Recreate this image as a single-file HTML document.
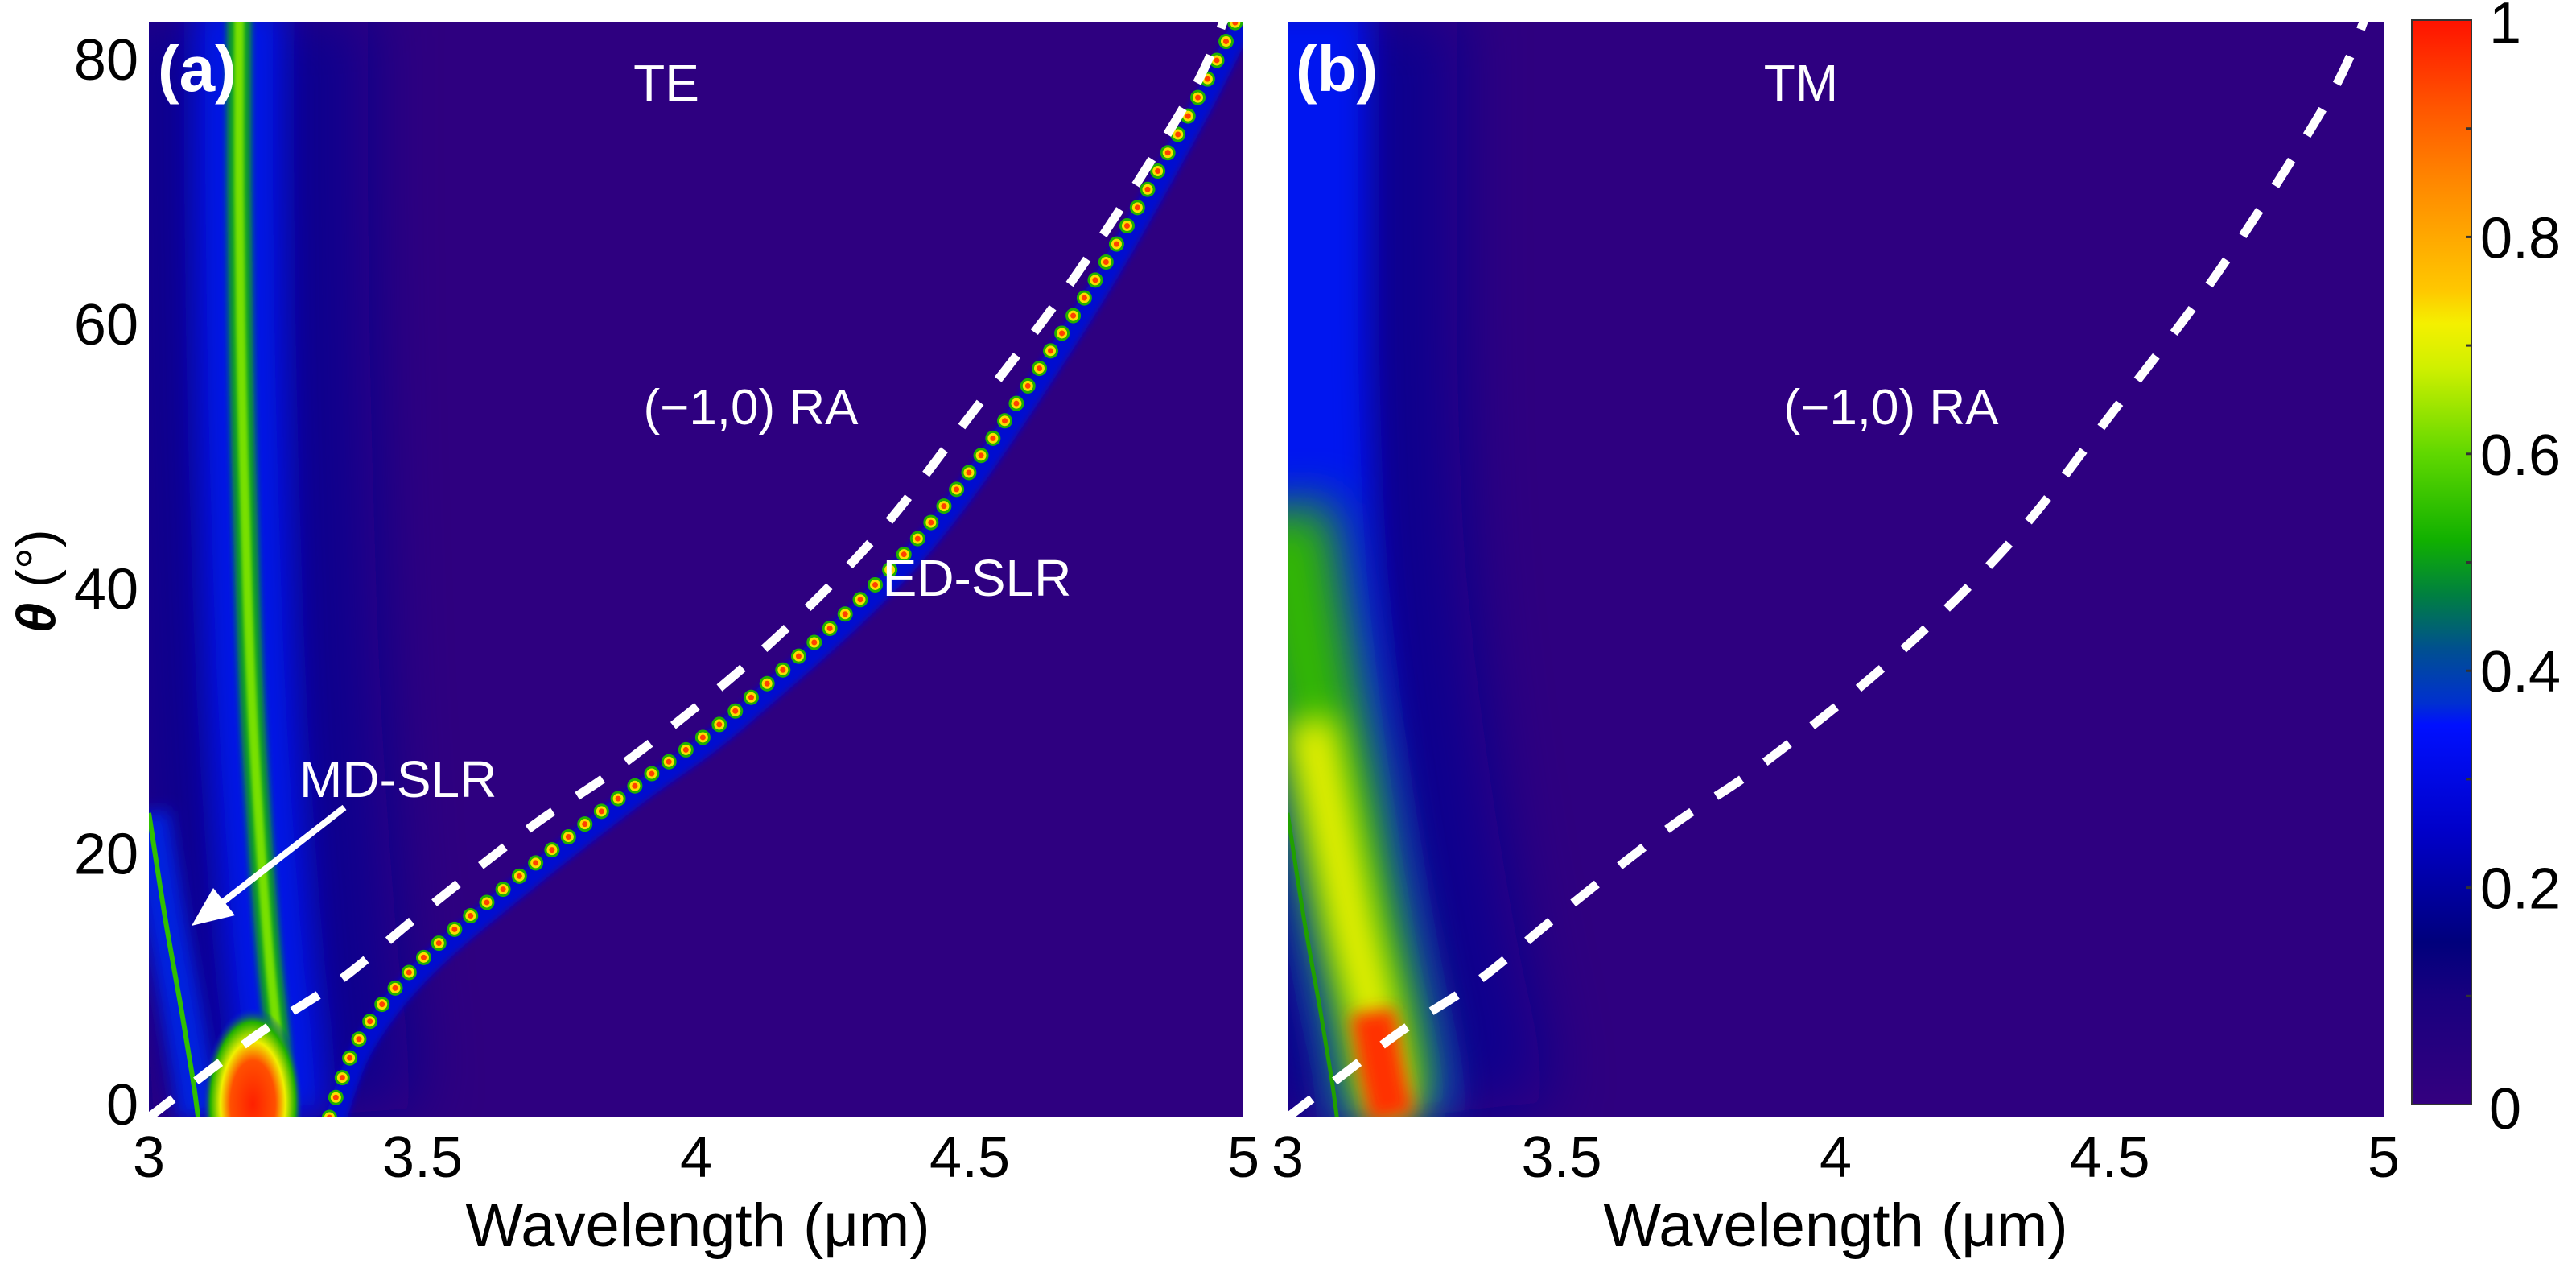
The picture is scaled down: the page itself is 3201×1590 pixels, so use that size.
<!DOCTYPE html>
<html><head><meta charset="utf-8"><style>
html,body{margin:0;padding:0;background:#fff}
svg{display:block}
text{font-family:"Liberation Sans",Arial,sans-serif}
</style></head><body>
<svg id="fig" width="3201" height="1590" viewBox="0 0 3201 1590" xmlns="http://www.w3.org/2000/svg">
<defs>
<clipPath id="clipA"><rect x="185" y="27" width="1360" height="1361"/></clipPath>
<clipPath id="clipB"><rect x="1600" y="27" width="1362" height="1361"/></clipPath>
<filter id="b40" filterUnits="userSpaceOnUse" x="0" y="0" width="3201" height="1590"><feGaussianBlur stdDeviation="40"/></filter>
<filter id="b30" filterUnits="userSpaceOnUse" x="0" y="0" width="3201" height="1590"><feGaussianBlur stdDeviation="30"/></filter>
<filter id="b20" filterUnits="userSpaceOnUse" x="0" y="0" width="3201" height="1590"><feGaussianBlur stdDeviation="20"/></filter>
<filter id="b10" filterUnits="userSpaceOnUse" x="0" y="0" width="3201" height="1590"><feGaussianBlur stdDeviation="10"/></filter>
<filter id="b4" filterUnits="userSpaceOnUse" x="0" y="0" width="3201" height="1590"><feGaussianBlur stdDeviation="4"/></filter>
<filter id="b2" filterUnits="userSpaceOnUse" x="0" y="0" width="3201" height="1590"><feGaussianBlur stdDeviation="2"/></filter>
<linearGradient id="cbar" x1="0" y1="1" x2="0" y2="0">
<stop offset="0" stop-color="#34007f"/><stop offset="0.1" stop-color="#18007f"/>
<stop offset="0.15" stop-color="#00007c"/><stop offset="0.25" stop-color="#0000c8"/>
<stop offset="0.35" stop-color="#0010ff"/><stop offset="0.37" stop-color="#0030d0"/>
<stop offset="0.42" stop-color="#005090"/><stop offset="0.47" stop-color="#008040"/>
<stop offset="0.52" stop-color="#10b000"/><stop offset="0.6" stop-color="#60d800"/>
<stop offset="0.68" stop-color="#d0f000"/><stop offset="0.72" stop-color="#f4f000"/>
<stop offset="0.75" stop-color="#ffc800"/><stop offset="0.85" stop-color="#ff8800"/>
<stop offset="0.92" stop-color="#ff5500"/><stop offset="1" stop-color="#ff1200"/>
</linearGradient>
<radialGradient id="blobA"><stop offset="0" stop-color="#ff2000"/><stop offset="0.45" stop-color="#ff5000"/><stop offset="0.65" stop-color="#f0f000"/><stop offset="0.85" stop-color="#20b000"/><stop offset="1" stop-color="#0020e0" stop-opacity="0"/></radialGradient>
</defs>
<g id="panelA" clip-path="url(#clipA)"></g>
<g id="panelB" clip-path="url(#clipB)"></g>
<g id="over"></g>
</svg>
<script>
// ---- data ----
const xTicks = [3, 3.5, 4, 4.5, 5];
const xTickLabels = ["3", "3.5", "4", "4.5", "5"];
const yTicks = [0, 20, 40, 60, 80];
const yTickLabels = ["0", "20", "40", "60", "80"];
const cbTicks = [0, 0.2, 0.4, 0.6, 0.8, 1];
const cbTickLabels = ["0", "0.2", "0.4", "0.6", "0.8", "1"];
// (-1,0) Rayleigh anomaly: wavelength (um) vs angle (deg)
const raLambda = [3.0, 3.2, 3.35, 3.5, 3.7, 3.86, 4.1, 4.32, 4.5, 4.7, 4.9, 4.97];
const raTheta  = [0, 6.3, 10.4, 15.5, 22, 26.5, 34.5, 43.5, 53, 64, 77, 83.5];
// ED-SLR ridge (TE)
const edLambda = [3.33, 3.385, 3.5, 3.7, 3.88, 4.08, 4.4, 4.68, 4.89, 5.0];
const edTheta  = [0, 6, 12, 19, 24.8, 31, 43.5, 60, 75, 84];
// Vertical resonance ridge (TE)
const teLambda = [3.165, 3.165, 3.17, 3.18, 3.19, 3.205, 3.22, 3.235, 3.24, 3.245];
const teTheta  = [84, 70, 55, 40, 30, 20, 12, 6, 3, 0];
// MD-SLR thin ridge (TE)
const mdLambda = [3.0, 3.03, 3.06, 3.08, 3.09];
const mdTheta  = [23, 15, 8, 3, 0];
// TM broad band ridge
const tmLambda = [3.03, 3.03, 3.04, 3.06, 3.09, 3.12, 3.15, 3.18, 3.19];
const tmTheta  = [84, 60, 45, 35, 25, 17, 10, 4, 0];
const tmGreenLambda = [2.99, 3.02, 3.05, 3.08, 3.11, 3.14, 3.17, 3.19];
const tmGreenTheta  = [46, 38, 31, 25, 18, 12, 6, 0];
const tmHotLambda = [3.04, 3.06, 3.09, 3.12, 3.15, 3.17, 3.19];
const tmHotTheta  = [30, 26, 20, 14, 9, 5, 0];
const tmRedLambda = [3.155, 3.17, 3.19];
const tmRedTheta  = [8, 4, 0];

// ---- axes ----
const Y0 = 1388, Y1 = 27, THMAX = 82.8;
function yS(t){ return Y0 - t*(Y0-Y1)/THMAX; }
function xA(l){ return 185 + (l-3)*680; }
function xB(l){ return 1600 + (l-3)*681; }
const NS = "http://www.w3.org/2000/svg";
function mk(tag, attrs, parent){
  const e = document.createElementNS(NS, tag);
  for (const k in attrs) e.setAttribute(k, attrs[k]);
  parent.appendChild(e); return e;
}
function smooth(xf, L, T){
  const P = L.map((l,i)=>[xf(l), yS(T[i])]);
  let d = "M"+P[0][0].toFixed(1)+","+P[0][1].toFixed(1);
  for (let i=0;i<P.length-1;i++){
    const p0=P[Math.max(0,i-1)], p1=P[i], p2=P[i+1], p3=P[Math.min(P.length-1,i+2)];
    const c1=[p1[0]+(p2[0]-p0[0])/6, p1[1]+(p2[1]-p0[1])/6];
    const c2=[p2[0]-(p3[0]-p1[0])/6, p2[1]-(p3[1]-p1[1])/6];
    d += " C"+c1[0].toFixed(1)+","+c1[1].toFixed(1)+" "+c2[0].toFixed(1)+","+c2[1].toFixed(1)+" "+p2[0].toFixed(1)+","+p2[1].toFixed(1);
  }
  return d;
}

const pA = document.getElementById("panelA");
const pB = document.getElementById("panelB");
const ov = document.getElementById("over");

// ---- panel (a) TE ----
let e;
e = mk("rect",{x:185,y:27,width:1360,height:1361,fill:"#2e0080"},pA);


e = mk("path",{d:smooth(xA,teLambda,teTheta),fill:"none",stroke:"#0a008e",'stroke-width':320,filter:"url(#b40)"},pA);


e = mk("path",{d:smooth(xA,teLambda,teTheta),fill:"none",stroke:"#0018e8",'stroke-width':110,filter:"url(#b20)"},pA);


e = mk("path",{d:smooth(xA,mdLambda,mdTheta),fill:"none",stroke:"#0020e0",'stroke-width':50,filter:"url(#b10)"},pA);


e = mk("path",{d:smooth(xA,mdLambda,mdTheta),fill:"none",stroke:"#30c000",'stroke-width':6},pA);


e = mk("path",{d:smooth(xA,teLambda,teTheta),fill:"none",stroke:"#10a020",'stroke-width':30,filter:"url(#b4)"},pA);


e = mk("path",{d:smooth(xA,teLambda,teTheta),fill:"none",stroke:"#78e000",'stroke-width':12,filter:"url(#b2)"},pA);


e = mk("ellipse",{cx:xA(3.19),cy:yS(1),rx:62,ry:120,fill:"url(#blobA)"},pA);


e = mk("path",{d:smooth(xA,edLambda,edTheta),fill:"none",stroke:"#0010d0",'stroke-width':26,filter:"url(#b4)",transform:"translate(6,8)"},pA);


e = mk("path",{d:smooth(xA,edLambda,edTheta),fill:"none",stroke:"#20b000",'stroke-width':19,'stroke-dasharray':"0 26",'stroke-linecap':"round"},pA);


e = mk("path",{d:smooth(xA,edLambda,edTheta),fill:"none",stroke:"#f8e000",'stroke-width':13,'stroke-dasharray':"0 26",'stroke-linecap':"round"},pA);


e = mk("path",{d:smooth(xA,edLambda,edTheta),fill:"none",stroke:"#ff4000",'stroke-width':7,'stroke-dasharray':"0 26",'stroke-linecap':"round"},pA);


e = mk("path",{d:smooth(xA,raLambda,raTheta),fill:"none",stroke:"#ffffff",'stroke-width':11,'stroke-dasharray':"38 36"},pA);



// ---- panel (b) TM ----
e = mk("rect",{x:1600,y:27,width:1362,height:1361,fill:"#2e0080"},pB);


e = mk("path",{d:smooth(xB,tmLambda,tmTheta),fill:"none",stroke:"#0a008e",'stroke-width':380,filter:"url(#b40)"},pB);


e = mk("path",{d:smooth(xB,tmLambda,tmTheta),fill:"none",stroke:"#0018f0",'stroke-width':160,filter:"url(#b20)"},pB);


e = mk("path",{d:smooth(xB,tmGreenLambda,tmGreenTheta),fill:"none",stroke:"#30b800",'stroke-width':120,filter:"url(#b30)"},pB);


e = mk("path",{d:smooth(xB,tmHotLambda,tmHotTheta),fill:"none",stroke:"#e8f000",'stroke-width':60,filter:"url(#b20)"},pB);


e = mk("path",{d:smooth(xB,tmRedLambda,tmRedTheta),fill:"none",stroke:"#ff3000",'stroke-width':55,filter:"url(#b10)"},pB);


e = mk("path",{d:smooth(xB,mdLambda,mdTheta),fill:"none",stroke:"#20a000",'stroke-width':5},pB);


e = mk("path",{d:smooth(xB,raLambda,raTheta),fill:"none",stroke:"#ffffff",'stroke-width':11,'stroke-dasharray':"38 36"},pB);



// ---- ticks & labels ----
xTicks.forEach((v,i)=>{
  let t = mk("text",{x:xA(v),y:1462,'font-size':72,'text-anchor':"middle",fill:"#000"},ov);
  t.textContent = xTickLabels[i];
  
  
  t = mk("text",{x:xB(v),y:1462,'font-size':72,'text-anchor':"middle",fill:"#000"},ov);
  t.textContent = xTickLabels[i];
  
  
});
yTicks.forEach((v,i)=>{
  const t = mk("text",{x:172,y:Math.min(yS(v)+26,1397),'font-size':72,'text-anchor':"end",fill:"#000"},ov);
  t.textContent = yTickLabels[i];
  
  
});
// colorbar
e = mk("rect",{x:2997,y:25,width:74,height:1347,fill:"url(#cbar)",stroke:"#333",'stroke-width':2},ov);


function cbY(v){ return 1372 - v*1347; }
for (let k=1;k<10;k++){
  const l = mk("line",{x1:3064,x2:3071,y1:cbY(k/10),y2:cbY(k/10),stroke:"#333",'stroke-width':3},ov);
  
  
}
cbTicks.forEach((v,i)=>{
  const t = mk("text",{x:v===0||v===1?3093:3082,y:cbY(v)+26+(v===0?4:0)+(v===1?2:0),'font-size':72,fill:"#000"},ov);
  t.textContent = cbTickLabels[i];
  
  
});
// axis titles
e = mk("text",{x:867,y:1548,'font-size':76,'text-anchor':"middle",fill:"#000"},ov);
e.textContent = "Wavelength (\u03bcm)";


e = mk("text",{x:2281,y:1548,'font-size':76,'text-anchor':"middle",fill:"#000"},ov);
e.textContent = "Wavelength (\u03bcm)";


e = mk("text",{x:0,y:0,'font-size':68,'text-anchor':"middle",fill:"#000",transform:"translate(68,722) rotate(-90)"},ov);
e.innerHTML = '<tspan font-style="italic" font-weight="bold">\u03b8</tspan> (\u00b0)';


// panel annotations
function lab(txt,x,y,size,bold,name,anchor){
  const t = mk("text",{x:x,y:y,'font-size':size,fill:"#fff",'text-anchor':anchor||"start",'font-weight':bold?"bold":"normal"},ov);
  t.textContent = txt;
  return t;
}
e = lab("(a)",196,113,80,true);  
e = lab("TE",828,125,64,false,0,"middle");  
e = lab("(b)",1610,113,80,true);  
e = lab("TM",2238,125,64,false,0,"middle");  
e = lab("(\u22121,0) RA",933,527,62,false,0,"middle");  
e = lab("(\u22121,0) RA",2350,527,62,false,0,"middle");  
e = lab("ED-SLR",1214,740,64,false,0,"middle");  
e = lab("MD-SLR",372,990,64,false);  
e = mk("line",{x1:428,y1:1003,x2:275,y2:1122,stroke:"#fff",'stroke-width':8},ov);


e = mk("polygon",{points:"238,1150 265,1103 292,1137",fill:"#fff"},ov);


</script>
</body></html>
